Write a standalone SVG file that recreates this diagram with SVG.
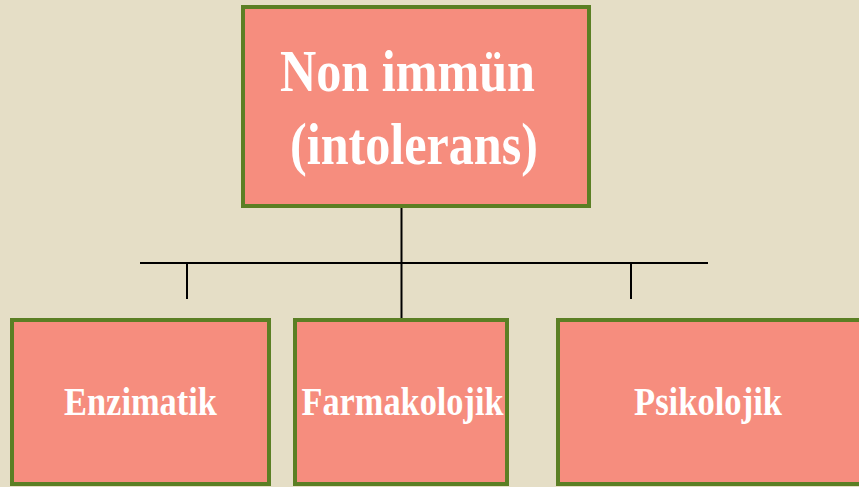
<svg xmlns="http://www.w3.org/2000/svg" width="859" height="487" viewBox="0 0 859 487">
<style>
.box{fill:#F68D7E;stroke:#5B7F24;stroke-width:4}
.t{font-family:"Liberation Serif","Times New Roman",serif;font-weight:bold;fill:#FFFFFF}
.big{font-size:60px}
.small{font-size:40px}
.ln{stroke:#000000;stroke-width:2;fill:none}
</style>
<rect x="0" y="0" width="859" height="487" fill="#E5DEC6"/>
<g id="connectors">
<line class="ln" x1="401.5" y1="208" x2="401.5" y2="318"/>
<line class="ln" x1="140" y1="263" x2="708" y2="263"/>
<line class="ln" x1="187" y1="263" x2="187" y2="299"/>
<line class="ln" x1="631" y1="263" x2="631" y2="299"/>
</g>
<g id="root">
<rect class="box" x="243" y="7" width="346" height="199"/>
<text class="t big" x="280" y="91" textLength="255" lengthAdjust="spacingAndGlyphs">Non immün</text>
<text class="t big" x="290" y="164" textLength="248" lengthAdjust="spacingAndGlyphs">(intolerans)</text>
</g>
<g id="enzimatik">
<rect class="box" x="12" y="320" width="257" height="164"/>
<text class="t small" x="64" y="415" textLength="153" lengthAdjust="spacingAndGlyphs">Enzimatik</text>
</g>
<g id="farmakolojik">
<rect class="box" x="295" y="320" width="212" height="164"/>
<text class="t small" x="301.5" y="415" textLength="202" lengthAdjust="spacingAndGlyphs">Farmakolojik</text>
</g>
<g id="psikolojik">
<rect class="box" x="558" y="320" width="304" height="164"/>
<text class="t small" x="634" y="415" textLength="148" lengthAdjust="spacingAndGlyphs">Psikolojik</text>
</g>
</svg>
